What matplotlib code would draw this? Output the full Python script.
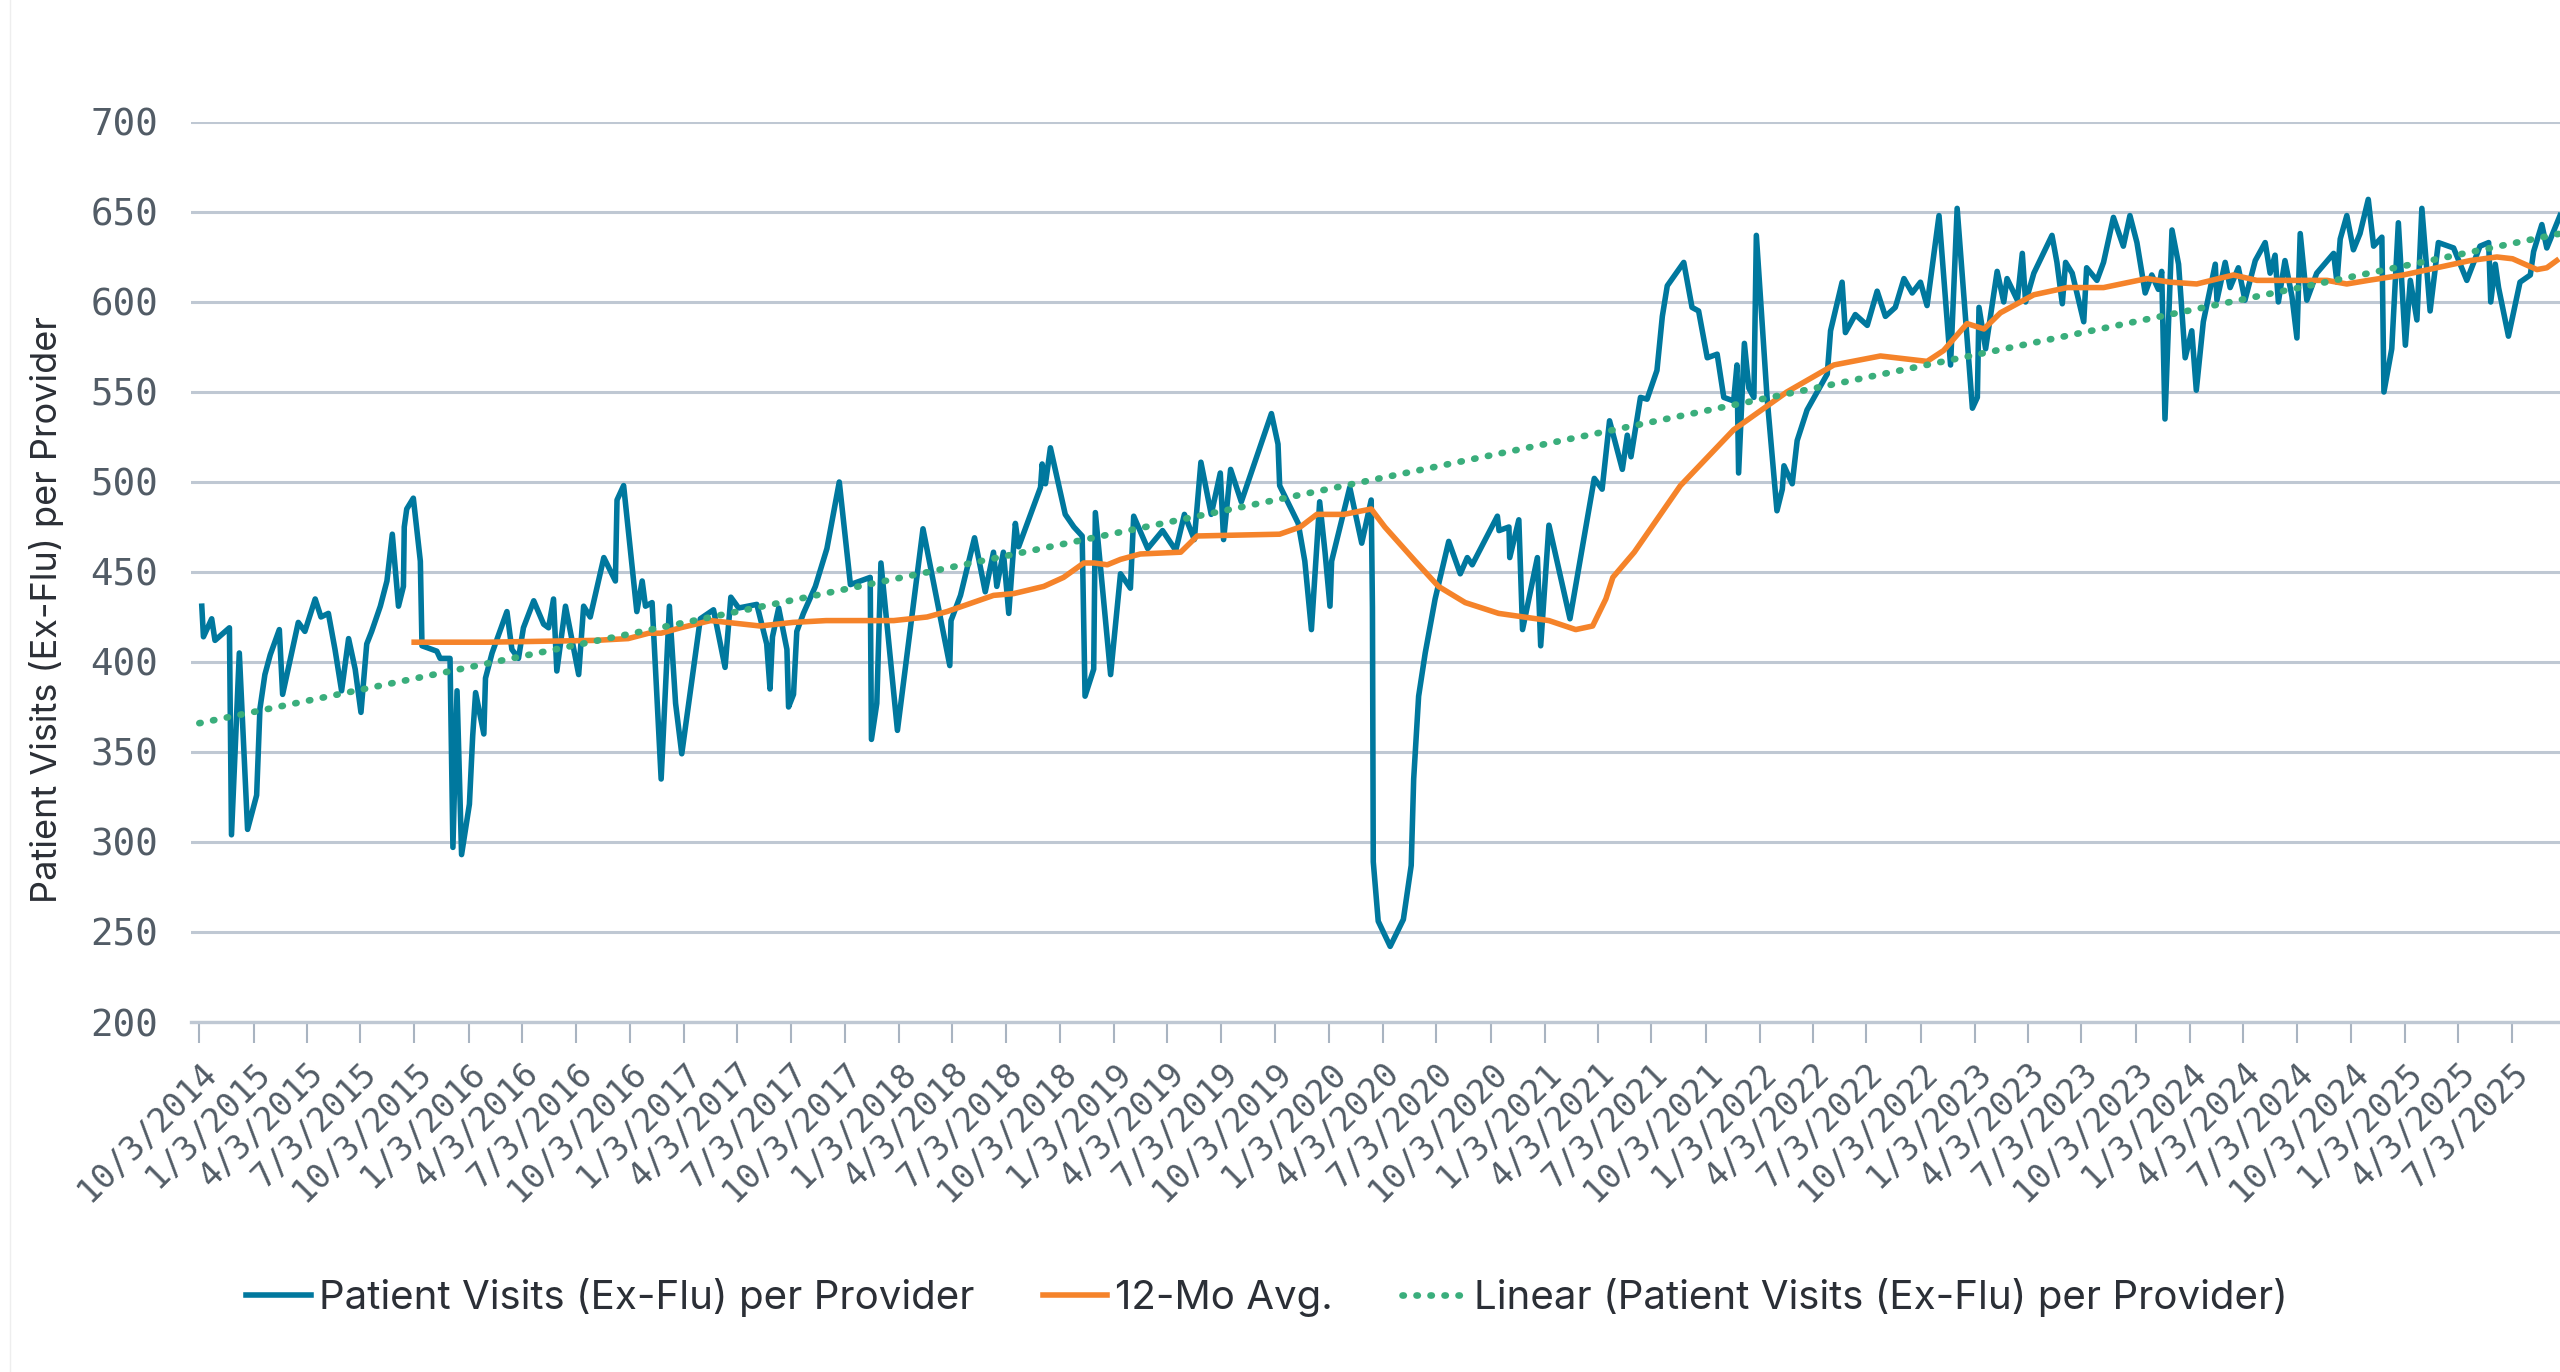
import matplotlib
matplotlib.use('Agg')
import matplotlib.pyplot as plt
from matplotlib.lines import Line2D
import pandas as pd

# weeks after 10/3/2014 and values
visit_weeks = [0.6, 1.0, 3.0, 3.8, 7.3, 7.8, 9.7, 11.7, 13.9, 14.7, 15.9, 17.2, 19.4, 20.2, 24.0,
               25.6, 28.1, 29.5, 31.3, 32.9, 34.5, 36.2, 37.8, 39.2, 40.6, 41.8, 43.9, 45.5, 46.8,
               48.3, 49.5, 49.7, 50.3, 51.9, 53.6, 54.0, 57.6, 58.4, 60.8, 61.5, 62.5, 63.6, 65.5,
               66.3, 67.0, 69.0, 69.4, 71.0, 74.6, 75.8, 77.4, 78.6, 81.1, 83.5, 84.7, 85.9, 86.7,
               88.8, 92.0, 93.2, 94.8, 98.1, 100.9, 101.3, 102.9, 106.1, 107.4, 108.2, 109.8, 112.0,
               114.0, 115.5, 117.0, 121.5, 124.7, 127.5, 128.9, 130.8, 135.2, 137.6, 138.4, 139.0,
               140.5, 142.5, 142.9, 144.1, 144.9, 146.5, 149.4, 152.2, 155.2, 157.9, 162.7, 163.0,
               164.3, 165.3, 169.3, 175.5, 182.0, 182.3, 184.6, 188.0, 190.6, 192.6, 193.4, 195.0,
               196.3, 197.9, 198.7, 204.0, 204.4, 205.2, 206.4, 210.0, 212.1, 214.1, 214.8, 216.9,
               217.3, 221.0, 223.4, 225.8, 226.6, 230.0, 233.6, 236.8, 238.9, 241.3, 242.9, 245.4,
               247.6, 248.4, 250.1, 252.7, 260.0, 261.6, 262.0, 266.5, 268.1, 269.7, 271.7, 273.0,
               274.2, 274.6, 279.0, 281.9, 284.2, 284.5, 284.7, 285.9, 288.8, 292.0, 293.9, 294.5,
               295.7, 297.3, 299.7, 303.0, 305.8, 307.5, 308.7, 314.8, 315.2, 317.6, 317.8, 320.0,
               320.9, 324.5, 325.3, 327.3, 332.4, 338.3, 340.2, 342.0, 345.1, 346.3, 347.2, 349.5,
               351.1, 353.5, 354.8, 356.0, 360.0, 362.0, 363.6, 365.7, 368.1, 369.7, 372.1, 372.9,
               373.3, 374.7, 375.8, 377.0, 377.6, 380.2, 382.6, 383.9, 384.3, 386.3, 387.5, 389.9,
               394.8, 395.6, 398.4, 399.2, 401.6, 404.5, 406.9, 408.9, 411.3, 413.4, 415.4, 417.4,
               419.0, 421.9, 424.7, 426.3, 430.0, 431.2, 431.6, 433.2, 436.0, 437.6, 438.4, 440.9,
               442.1, 442.9, 444.9, 449.3, 450.5, 451.8, 452.6, 454.2, 457.0, 457.7, 460.2, 461.8,
               464.2, 466.6, 468.2, 469.9, 471.9, 473.5, 475.1, 475.9, 476.7, 478.4, 480.0, 481.6,
               483.2, 484.3, 486.0, 488.9, 489.3, 491.3, 492.5, 494.5, 496.1, 498.6, 501.0, 502.2,
               503.4, 504.2, 505.8, 507.5, 508.7, 509.5, 511.1, 513.5, 517.6, 518.4, 519.2, 520.8,
               522.4, 524.0, 526.0, 527.3, 529.3, 529.8, 531.7, 533.3, 535.0, 536.2, 537.8, 539.0,
               541.0, 543.0, 546.7, 549.9, 553.1, 555.2, 555.7, 556.8, 557.6, 560.0, 562.8, 565.3,
               566.1, 568.1, 569.3, 572.5]
visit_vals = [431, 414, 424, 412, 419, 304, 405, 307, 326, 374, 393, 404, 418, 382, 422,
              417, 435, 425, 427, 407, 384, 413, 396, 372, 410, 417, 431, 445, 471,
              431, 442, 475, 485, 491, 456, 409, 406, 402, 402, 297, 384, 293, 321,
              359, 383, 360, 391, 405, 428, 407, 402, 419, 434, 421, 419, 435, 395,
              431, 393, 431, 425, 458, 445, 490, 498, 428, 445, 431, 433, 335,
              431, 377, 349, 424, 429, 397, 436, 430, 432, 410, 385, 414,
              430, 407, 375, 382, 417, 427, 442, 463, 500, 443, 447, 357,
              377, 455, 362, 474, 398, 423, 437, 469, 439, 461, 442, 461,
              427, 477, 464, 497, 510, 499, 519, 482, 475, 470, 381, 396,
              483, 393, 449, 441, 481, 463, 473, 462, 482, 468, 511, 482,
              505, 468, 507, 489, 538, 521, 498, 477, 456, 418, 489, 461,
              431, 456, 497, 466, 490, 430, 289, 256, 242, 257, 287, 335,
              381, 405, 435, 467, 449, 458, 454, 481, 473, 475, 458, 479,
              418, 458, 409, 476, 424, 502, 496, 534, 507, 526, 514, 547,
              546, 562, 592, 609, 622, 597, 595, 569, 571, 547, 545, 565,
              505, 577, 552, 547, 637, 547, 484, 496, 509, 499, 523, 540,
              560, 584, 611, 583, 593, 587, 606, 592, 597, 613, 605, 611,
              598, 648, 565, 652, 541, 547, 597, 574, 617, 600, 613, 601,
              627, 600, 616, 637, 622, 599, 622, 616, 589, 619, 612, 622,
              647, 631, 648, 633, 605, 615, 607, 617, 535, 640, 621, 569,
              584, 551, 589, 621, 601, 622, 608, 619, 601, 623, 633, 616,
              626, 600, 623, 603, 580, 638, 601, 616, 627, 611, 635, 648,
              629, 638, 657, 631, 636, 550, 574, 644, 576, 612, 590, 652,
              595, 633, 630, 612, 631, 633, 600, 621, 608, 581, 611, 615,
              628, 643, 630, 648]

avg_weeks = [52.1, 70, 96, 104, 109, 112, 116.7, 124, 136, 144, 152, 168.4, 176.5, 181.3, 192.6,
             197.5, 204.8, 209.6, 214.5, 217, 220.2, 223.4, 228.2, 238, 242, 262, 267, 271,
             277.6, 284.2, 287.5, 294.9, 300.5, 307, 315.1, 327.3, 333.8, 337.9, 341.1, 342.8,
             348, 359.2, 372.1, 385, 396.4, 407.7, 419, 423, 428.7, 432.8, 436.8, 444.9, 453,
             461.8, 472.3, 478, 484.4, 493.3, 499, 510.3, 516, 520.8, 526, 534.5, 542.6, 550.7,
             557.2, 561, 566.9, 569.3, 571.7]
avg_vals = [411, 411, 412, 413, 416, 416, 419, 423, 420, 422, 423, 423, 425, 428, 437,
            438, 442, 447, 455, 455, 454, 457, 460, 461, 470, 471, 475, 482,
            482, 485, 475, 456, 442, 433, 427, 423, 418, 420, 435, 447,
            461, 498, 529, 550, 565, 570, 567, 573, 588, 585, 594, 604, 608,
            608, 613, 611, 610, 615, 612, 612, 612, 610, 612, 615, 619, 623,
            625, 624, 618, 619, 623]

trend_weeks = [0, 572.5]
trend_vals = [366, 638]

start = pd.Timestamp('2014-10-03')
def to_dates(weeks):
    return start + pd.to_timedelta([w * 7 for w in weeks], unit='D')

tick_dates = [pd.Timestamp(2014 + (9 + 3 * i) // 12, (9 + 3 * i) % 12 + 1, 3) for i in range(44)]
tick_labels = [f"{d.month}/{d.day}/{d.year}" for d in tick_dates]

BLUE = '#00789e'
ORANGE = '#f5832a'
GREEN = '#3aae7c'
GRID = '#bfc8d3'
TICKC = '#525c66'
TEXTC = '#2b2f36'
FONT = ['Inter', 'DejaVu Sans']
MONO = 'DejaVu Sans Mono'

fig = plt.figure(figsize=(25.6, 13.72), dpi=100)
ax = fig.add_axes([0.0748, 0.2551, 0.9252, 0.656])

ax.plot(to_dates(visit_weeks), visit_vals, color=BLUE, lw=4.0, solid_joinstyle='round',
        label='Patient Visits (Ex-Flu) per Provider', zorder=3)
ax.plot(to_dates(avg_weeks), avg_vals, color=ORANGE, lw=4.0, solid_joinstyle='round',
        label='12-Mo Avg.', zorder=4)
ax.plot(to_dates(trend_weeks), trend_vals, color=GREEN, lw=4.8, linestyle=(0, (0.2, 1.9)),
        dash_capstyle='round', label='Linear (Patient Visits (Ex-Flu) per Provider)', zorder=5)

ax.set_ylim(200, 700)
ax.set_yticks(range(200, 701, 50))
ax.set_xlim(to_dates([-1.9])[0], to_dates([572.5])[0])
ax.set_xticks(tick_dates)
ax.set_xticklabels(tick_labels, rotation=45, ha='right', rotation_mode='anchor',
                   fontsize=24, color=TICKC, family=MONO)
for lab in ax.get_yticklabels():
    lab.set_fontsize(27)
    lab.set_color(TICKC)
    lab.set_family(MONO)

ax.grid(axis='y', color=GRID, lw=2.2)
ax.set_axisbelow(True)
for s in ['top', 'right', 'left']:
    ax.spines[s].set_visible(False)
ax.spines['bottom'].set_color(GRID)
ax.spines['bottom'].set_linewidth(2.4)
ax.tick_params(axis='x', length=15, width=1.5, color='#a9b4c1', pad=10)
ax.tick_params(axis='y', length=0, pad=24)

fig.text(0.018, 0.556, 'Patient Visits (Ex-Flu) per Provider', rotation=90, va='center',
         ha='center', fontsize=26, color=TEXTC, family=FONT)

fig.legend(loc='center', bbox_to_anchor=(0.495, 0.054), ncol=3, frameon=False,
           prop={'family': FONT, 'size': 29}, labelcolor=TEXTC, handlelength=1.6,
           handletextpad=0.2, columnspacing=1.7)

fig.add_artist(Line2D([0.004, 0.004], [0, 1], transform=fig.transFigure, color='#eeeeee', lw=1))

plt.savefig('out.png', dpi=100)
